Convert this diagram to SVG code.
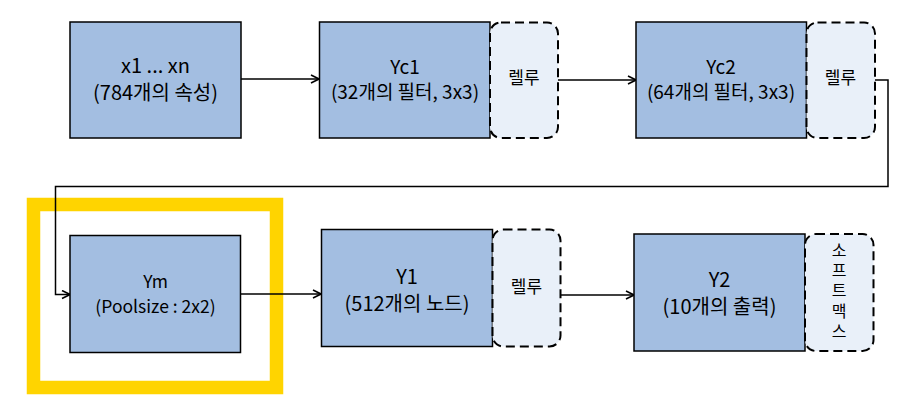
<svg xmlns="http://www.w3.org/2000/svg" width="897" height="402" viewBox="0 0 897 402">
<defs>
<marker id="arr" viewBox="0 0 10 10" refX="9" refY="5" markerWidth="10" markerHeight="10" markerUnits="userSpaceOnUse" orient="auto">
<path d="M1,1 L9,5 L1,9" fill="none" stroke="#000" stroke-width="1.6"/>
</marker>
<style>
.box{fill:#A3BEE1;stroke:#000;stroke-width:1.5}
.act{fill:#E9F0F9;stroke:#000;stroke-width:2;stroke-dasharray:9 5}
.t{font-family:"Malgun Gothic","Noto Sans CJK KR",sans-serif;fill:#000;text-anchor:middle}
.big{font-size:20px}
.mid{font-size:19px}
.ym{font-size:17.5px}
.sm{font-size:17px}
.sx{font-size:16px;writing-mode:vertical-rl;text-orientation:upright;letter-spacing:4.3px}
.ln{fill:none;stroke:#000;stroke-width:1.5}
</style>
</defs>
<rect x="33.5" y="204.5" width="243" height="183" fill="none" stroke="#FFD400" stroke-width="13.5"/>
<g id="connectors">
<path class="ln" d="M241,79 H319" marker-end="url(#arr)"/>
<path class="ln" d="M558,80 H636" marker-end="url(#arr)"/>
<path class="ln" d="M875,80 H888 V186.5 H55.5 V294.5 H70" marker-end="url(#arr)"/>
<path class="ln" d="M241,294 H321" marker-end="url(#arr)"/>
<path class="ln" d="M561,295 H634" marker-end="url(#arr)"/>
</g>
<g id="input">
<rect class="box" x="70" y="22" width="171" height="116"/>
<text class="t big" x="155.5" y="73">x1 ... xn<tspan x="155.5" dy="27">(784개의 속성)</tspan></text>
</g>
<g id="yc1">
<rect class="box" x="319.5" y="22" width="170.5" height="116"/>
<text class="t mid" x="405" y="74">Yc1<tspan x="405" dy="25">(32개의 필터, 3x3)</tspan></text>
</g>
<g id="relu1">
<rect class="act" x="490" y="22.5" width="68" height="115.5" rx="11"/>
<text class="t sm" x="524" y="84">렐루</text>
</g>
<g id="yc2">
<rect class="box" x="636" y="22" width="170.5" height="116"/>
<text class="t mid" x="721" y="74">Yc2<tspan x="721" dy="25">(64개의 필터, 3x3)</tspan></text>
</g>
<g id="relu2">
<rect class="act" x="806.5" y="22.5" width="68.5" height="115.5" rx="11"/>
<text class="t sm" x="840.5" y="84">렐루</text>
</g>
<g id="ym">
<rect class="box" x="70" y="235.5" width="170.5" height="117"/>
<text class="t ym" x="155.5" y="288">Ym<tspan x="155.5" dy="25">(Poolsize : 2x2)</tspan></text>
</g>
<g id="y1">
<rect class="box" x="321.5" y="229.5" width="171" height="117"/>
<text class="t big" x="407" y="284">Y1<tspan x="407" dy="27">(512개의 노드)</tspan></text>
</g>
<g id="relu3">
<rect class="act" x="492.5" y="229.5" width="68" height="117" rx="11"/>
<text class="t sm" x="526.5" y="293">렐루</text>
</g>
<g id="y2">
<rect class="box" x="634" y="234" width="171" height="117"/>
<text class="t big" x="719.5" y="287">Y2<tspan x="719.5" dy="27">(10개의 출력)</tspan></text>
</g>
<g id="softmax">
<rect class="act" x="805" y="234" width="68.5" height="117" rx="11"/>
<text class="t sx" x="839" y="292.5" text-anchor="middle">소프트맥스</text>
</g>
</svg>
